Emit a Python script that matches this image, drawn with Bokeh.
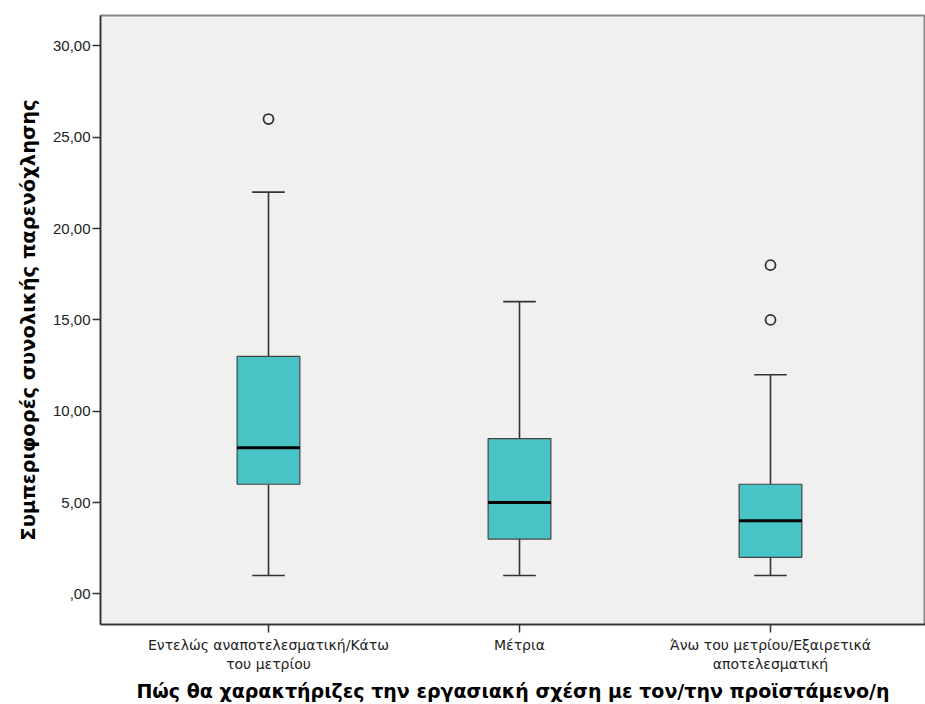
from bokeh.plotting import figure
from bokeh.models import FixedTicker, ColumnDataSource
from bokeh.embed import file_html
from bokeh.resources import INLINE

categories = ["Εντελώς αναποτελεσματική/Κάτω\nτου μετρίου", "Μέτρια", "Άνω του μετρίου/Εξαιρετικά\nαποτελεσματική"]
positions = [1, 2, 3]
whisker_low = [1, 1, 1]
q1 = [6, 3, 2]
median = [8, 5, 4]
q3 = [13, 8.5, 6]
whisker_high = [22, 16, 12]
outlier_pos = [1, 3, 3]
outlier_val = [26, 18, 15]
y_ticks = [0, 5, 10, 15, 20, 25, 30]
y_tick_labels = [",00", "5,00", "10,00", "15,00", "20,00", "25,00", "30,00"]

box_w = 0.25
cap_w = 0.13

p = figure(width=925, height=704, output_backend="svg", toolbar_location=None,
           x_range=(0.3307, 3.6175), y_range=(-1.68, 31.67),
           min_border_left=100, min_border_right=0, min_border_top=15, min_border_bottom=79)
p.background_fill_color = "#F0F0F0"
p.border_fill_color = "white"
p.outline_line_color = "#888888"
p.outline_line_width = 2
p.xgrid.visible = False
p.ygrid.visible = False

src = ColumnDataSource(dict(x=positions, lo=whisker_low, q1=q1, med=median, q3=q3, hi=whisker_high,
                            cl=[x - cap_w / 2 for x in positions], cr=[x + cap_w / 2 for x in positions],
                            bl=[x - box_w / 2 for x in positions], br=[x + box_w / 2 for x in positions]))

# whiskers
p.segment(x0="x", y0="q3", x1="x", y1="hi", source=src, line_color="#333333", line_width=1.6)
p.segment(x0="x", y0="lo", x1="x", y1="q1", source=src, line_color="#333333", line_width=1.6)
p.segment(x0="cl", y0="hi", x1="cr", y1="hi", source=src, line_color="#333333", line_width=1.6)
p.segment(x0="cl", y0="lo", x1="cr", y1="lo", source=src, line_color="#333333", line_width=1.6)
# boxes
p.vbar(x="x", width=box_w, bottom="q1", top="q3", source=src, fill_color="#48C4C7",
       line_color="#444444", line_width=1.2)
# medians
p.segment(x0="bl", y0="med", x1="br", y1="med", source=src, line_color="#000000", line_width=3)
# outliers
p.scatter(outlier_pos, outlier_val, marker="circle", size=10, fill_color="#F0F0F0",
          line_color="#333333", line_width=1.8)

p.xaxis.ticker = FixedTicker(ticks=positions)
p.xaxis.major_label_overrides = {pos: lab for pos, lab in zip(positions, categories)}
p.yaxis.ticker = FixedTicker(ticks=y_ticks)
p.yaxis.major_label_overrides = {t: l for t, l in zip(y_ticks, y_tick_labels)}

for ax in (p.xaxis[0], p.yaxis[0]):
    ax.axis_line_color = "#333333"
    ax.axis_line_width = 1.5
    ax.major_tick_line_color = "#333333"
    ax.major_tick_line_width = 1.5
    ax.major_tick_in = 0
    ax.major_tick_out = 8
    ax.minor_tick_line_color = None
    ax.major_label_text_color = "#222222"
    ax.axis_label_text_font = "DejaVu Sans"
    ax.axis_label_text_font_style = "bold"
    ax.axis_label_text_color = "#000000"

p.yaxis.major_label_text_font = "Liberation Sans"
p.yaxis.major_label_text_font_size = "15px"
p.xaxis.major_label_text_font = "DejaVu Sans"
p.xaxis.major_label_text_font_size = "14px"
p.yaxis.major_label_standoff = 2
p.xaxis.major_label_standoff = 4
p.yaxis.axis_label = "Συμπεριφορές συνολικής παρενόχλησης"
p.yaxis.axis_label_text_font_size = "19.5px"
p.yaxis.axis_label_standoff = 10
p.xaxis.axis_label = "Πώς θα χαρακτήριζες την εργασιακή σχέση με τον/την προϊστάμενο/η"
p.xaxis.axis_label_text_font_size = "19px"
p.xaxis.axis_label_standoff = 5

open("out.html", "w").write(file_html(p, INLINE))
